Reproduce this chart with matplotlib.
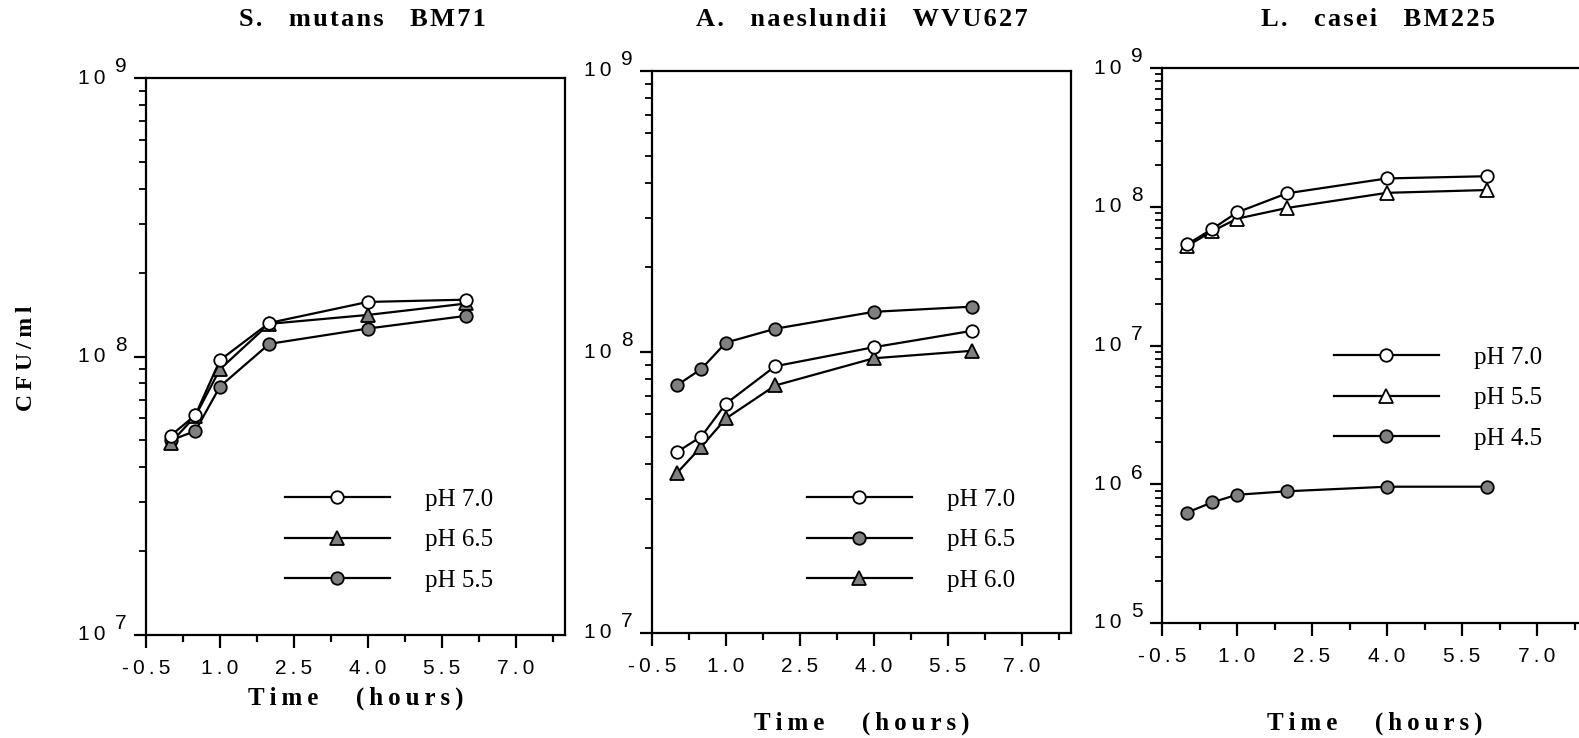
import matplotlib
matplotlib.use("Agg")
import matplotlib.pyplot as plt
from matplotlib.ticker import FixedLocator, LogLocator, NullFormatter

# ---- data ----
time_h = [0, 0.5, 1, 2, 4, 6]

titles = ["S. mutans BM71", "A. naeslundii WVU627", "L. casei BM225"]

mutans_labels = ["pH 7.0", "pH 6.5", "pH 5.5"]
mutans_ph70 = [5.2e7, 6.15e7, 9.7e7, 1.32e8, 1.57e8, 1.60e8]
mutans_ph65 = [4.9e7, 6.1e7, 9.0e7, 1.31e8, 1.41e8, 1.55e8]
mutans_ph55 = [5.0e7, 5.4e7, 7.8e7, 1.11e8, 1.26e8, 1.40e8]

naes_labels = ["pH 7.0", "pH 6.5", "pH 6.0"]
naes_ph70 = [4.4e7, 5.0e7, 6.55e7, 8.9e7, 1.04e8, 1.19e8]
naes_ph65 = [7.6e7, 8.7e7, 1.08e8, 1.21e8, 1.39e8, 1.45e8]
naes_ph60 = [3.7e7, 4.6e7, 5.8e7, 7.6e7, 9.5e7, 1.01e8]

casei_labels = ["pH 7.0", "pH 5.5", "pH 4.5"]
casei_ph70 = [5.35e7, 6.9e7, 9.1e7, 1.25e8, 1.60e8, 1.66e8]
casei_ph55 = [5.2e7, 6.65e7, 8.2e7, 9.8e7, 1.26e8, 1.32e8]
casei_ph45 = [6.25e5, 7.4e5, 8.4e5, 8.9e5, 9.6e5, 9.6e5]

x_ticks = [-0.5, 1.0, 2.5, 4.0, 5.5, 7.0]
y_exp = [[7, 8, 9], [7, 8, 9], [5, 6, 7, 8, 9]]

# ---- layout (pixels of a 1579x738 canvas) ----
W, H = 1579, 738
SERIF = ["Liberation Serif", "DejaVu Serif"]
SANS = ["Liberation Sans", "DejaVu Sans"]
GRAY = "#808080"
THIN = "\u2009"
HAIR = "\u200a"

# left, top, right, bottom of each axes box
boxes = [(146, 78, 565, 635), (652, 71, 1071, 633), (1162, 68, 1587, 623)]
title_pos = [(362, 19), (862, 19), (1378, 19)]
xlabel_y = [698, 723, 723]
legend_pos = [(389, 540), (911, 540), (1438, 398)]


def spaced(text, gap=THIN, word_gap="   "):
    return word_gap.join(gap.join(w) for w in text.split())


fig = plt.figure(figsize=(W / 100, H / 100), dpi=100)

panels = [
    (mutans_labels, [mutans_ph70, mutans_ph65, mutans_ph55],
     [("o", "white"), ("^", GRAY), ("o", GRAY)], (1e7, 1e9)),
    (naes_labels, [naes_ph70, naes_ph65, naes_ph60],
     [("o", "white"), ("o", GRAY), ("^", GRAY)], (1e7, 1e9)),
    (casei_labels, [casei_ph70, casei_ph55, casei_ph45],
     [("o", "white"), ("^", "white"), ("o", GRAY)], (1e5, 1e9)),
]

for i, (labels, series, styles, ylim) in enumerate(panels):
    l, t, r, b = boxes[i]
    ax = fig.add_axes([l / W, 1 - b / H, (r - l) / W, (b - t) / H])
    ax.set_yscale("log")

    handles = []
    for k, (vals, (mk, fc)) in enumerate(zip(series, styles)):
        line, = ax.plot(time_h, vals, color="black", lw=1.6, marker=mk,
                        ms=9 if mk == "o" else 9.5, mfc=fc, mec="black",
                        mew=1.3, zorder=3 + (2 - k), clip_on=False)
        handles.append(line)

    ax.set_xlim(-0.5, 8.0)
    ax.set_ylim(*ylim)

    for s in ax.spines.values():
        s.set_linewidth(1.6)

    ax.xaxis.set_major_locator(FixedLocator(x_ticks))
    ax.xaxis.set_minor_locator(FixedLocator([v + 0.75 for v in x_ticks]))
    ax.set_xticklabels([spaced(f"{v:.1f}") for v in x_ticks],
                       family=SANS, fontsize=15)
    ax.tick_params(axis="x", which="major", direction="out", length=9,
                   width=1.6, pad=8)
    ax.tick_params(axis="x", which="minor", direction="out", length=5,
                   width=1.6)

    ax.yaxis.set_major_locator(LogLocator(base=10))
    ax.yaxis.set_minor_locator(LogLocator(base=10, subs=range(2, 10)))
    ax.yaxis.set_major_formatter(NullFormatter())
    ax.yaxis.set_minor_formatter(NullFormatter())
    ax.tick_params(axis="y", which="major", direction="out", length=9,
                   width=1.6)
    ax.tick_params(axis="y", which="minor", direction="out", length=5,
                   width=1.3)

    # "10" with a full size, raised exponent
    ytr = ax.get_yaxis_transform()
    for e in y_exp[i]:
        ax.annotate(spaced("10"), xy=(0, 10.0 ** e), xycoords=ytr,
                    xytext=(-29, 0), textcoords="offset points",
                    ha="right", va="center", family=SANS, fontsize=15,
                    annotation_clip=False)
        ax.annotate(str(e), xy=(0, 10.0 ** e), xycoords=ytr,
                    xytext=(-14, 8), textcoords="offset points",
                    ha="right", va="center", family=SANS, fontsize=15,
                    annotation_clip=False)

    fig.text(title_pos[i][0] / W, 1 - title_pos[i][1] / H,
             spaced(titles[i], gap=HAIR, word_gap="    "), ha="center",
             va="center", family=SERIF, fontweight="bold", fontsize=19)
    fig.text((l + min(r, W + 8)) / 2 / W, 1 - xlabel_y[i] / H,
             spaced("Time (hours)", word_gap="      "), ha="center",
             va="center", family=SERIF, fontweight="bold", fontsize=18)

    lx, ly = legend_pos[i]
    ax.legend(handles, labels, loc="center",
              bbox_to_anchor=((lx - l) / (r - l), (b - ly) / (b - t)),
              frameon=False, handlelength=4.2, handletextpad=1.4,
              labelspacing=0.72, numpoints=1,
              prop={"family": SERIF, "size": 18})

fig.text(27 / W, 1 - 358 / H, spaced("CFU/ml"), rotation=90,
         ha="center", va="center", family=SERIF, fontweight="bold",
         fontsize=17)

fig.savefig("out.png", dpi=100)
